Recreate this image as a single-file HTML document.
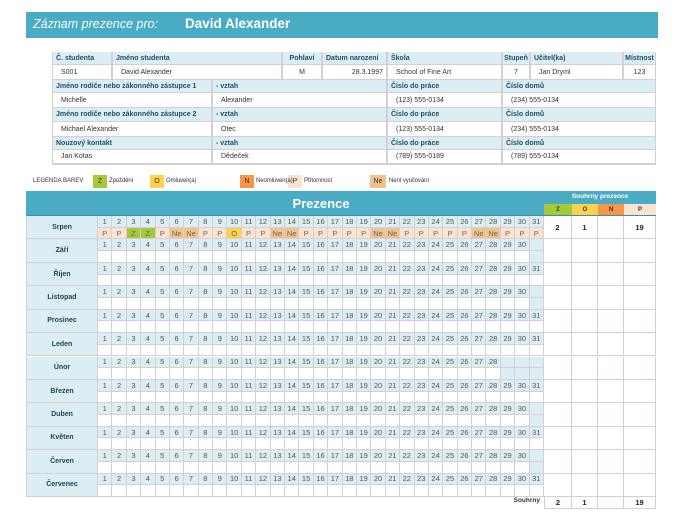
<!DOCTYPE html>
<html><head><meta charset="utf-8">
<style>
body{margin:0;width:675px;height:520px;background:#fff;position:relative;overflow:hidden;font-family:"Liberation Sans",sans-serif;}
.a{position:absolute;box-sizing:border-box;}
.t{position:absolute;font-size:7px;color:#333;white-space:nowrap;line-height:1;}
.c{position:absolute;box-sizing:border-box;font-size:7.5px;color:#555;text-align:center;border-right:1px solid #d8cdd2;border-bottom:1px solid #d8cdd2;display:flex;align-items:center;justify-content:center;}
</style></head><body>
<div class="a" style="left:26px;top:12px;width:632px;height:26px;background:#4aabc5;"></div>
<div class="t" style="left:33px;top:18px;font-size:12.5px;color:#fff;font-style:italic;">Záznam prezence pro:</div>
<div class="t" style="left:185px;top:17px;font-size:13.5px;color:#fff;font-weight:bold;">David Alexander</div>
<div id="info"></div>
<div id="legend"></div>
<div id="att"></div>
<script>
const months=["Srpen","Září","Říjen","Listopad","Prosinec","Leden","Únor","Březen","Duben","Květen","Červen","Červenec"];
const daysInMonth=[31,30,31,30,31,31,28,31,30,31,30,31];
const augustStatus=["P","P","Z","Z","P","Ne","Ne","P","P","O","P","P","Ne","Ne","P","P","P","P","P","Ne","Ne","P","P","P","P","P","Ne","Ne","P","P","P"];
const summaryKeys=["Z","O","N","P"];
const augustSummary=["2","1","","19"];
const totalSummary=["2","1","","19"];
const colors={Z:"#a6c93a",O:"#ffd24d",N:"#f79646",P:"#fbe4cf",Ne:"#f1c38c"};
const B="#d8cdd2",LB="#daeef3",BL="#4aabc5";
function box(parent,x,y,w,h,bg,name,inter,txt,cls,style){
  const d=document.createElement('div');
  d.className=cls||'c';
  
  
  d.style.left=x+'px';d.style.top=y+'px';d.style.width=w+'px';d.style.height=h+'px';
  if(bg)d.style.background=bg;
  if(txt!==undefined)d.textContent=txt;
  if(style)d.style.cssText+=style;
  parent.appendChild(d);return d;
}
const info=document.getElementById('info');
box(info,52,52,604,113,null,'info-frame',false,'','a','border:1px solid '+B);
const rowsY=[52,65,80,93,108,122,137,150,164];
function cell(x1,x2,ri,txt,hdr,name,align){
  box(info,x1,rowsY[ri],x2-x1,rowsY[ri+1]-rowsY[ri],hdr?LB:'#fff',name,!hdr,txt,'c',
   'font-size:7px;justify-content:'+(align||'flex-start')+';padding-left:'+(align?0:(hdr?3:8))+'px;padding-right:'+(align==='flex-end'?3:0)+'px;border-left:1px solid '+B+';'+(hdr?'font-weight:bold;color:#1f4e66;':'color:#333;'));
}
const cols=[[52,112,"Č. studenta","S001","student-id"],[112,282,"Jméno studenta","David Alexander","student-name"],[282,322,"Pohlaví","M","gender","center"],[322,387,"Datum narození","28.3.1997","birth-date","flex-end"],[387,502,"Škola","School of Fine Art","school"],[502,530,"Stupeň","7","grade","center"],[530,623,"Učitel(ka)","Jan Dryml","teacher"],[623,656,"Místnost","123","room","center"]];
cols.forEach(c=>{cell(c[0],c[1],0,c[2],true,c[4]+'-header',c[5]==='center'?'center':null);cell(c[0],c[1],1,c[3],false,c[4]+'-value',c[5]);});
const contacts=[["Jméno rodiče nebo zákonného zástupce 1","Michelle","Alexander","(123) 555-0134","(234) 555-0134","parent1"],["Jméno rodiče nebo zákonného zástupce 2","Michael Alexander","Otec","(123) 555-0134","(234) 555-0134","parent2"],["Nouzový kontakt","Jan Kotas","Dědeček","(789) 555-0189","(789) 555-0134","emergency"]];
contacts.forEach((c,i)=>{const r=2+i*2;
 cell(52,212,r,c[0],true,c[5]+'-name-header');cell(212,387,r,"- vztah",true,c[5]+'-relation-header');cell(387,502,r,"Číslo do práce",true,c[5]+'-work-header');cell(502,656,r,"Číslo domů",true,c[5]+'-home-header');
 cell(52,212,r+1,c[1],false,c[5]+'-name');cell(212,387,r+1,c[2],false,c[5]+'-relation');cell(387,502,r+1,c[3],false,c[5]+'-work-phone');cell(502,656,r+1,c[4],false,c[5]+'-home-phone');});
const lg=document.getElementById('legend');
box(lg,33,178,60,9,null,'legend-title',false,'LEGENDA BAREV','t','font-size:6px;');
[[93,"Z","Zpoždění"],[150,"O","Omluven(a)"],[240,"N","Neomluven(a)"],[288,"P","Přítomnost"],[370,"Ne","Není vyučování"]].forEach(l=>{
 box(lg,l[0],175,l[1]==="Ne"?16:14,13,colors[l[1]],'legend-swatch-'+l[1].toLowerCase(),false,l[1],'c','border:none;color:#333;font-size:7px;');
 box(lg,l[0]+(l[1]==="Ne"?19:16),178,40,9,null,'legend-label-'+l[1].toLowerCase(),false,l[2],'t','font-size:6px;letter-spacing:-0.1px;z-index:2;');});
const at=document.getElementById('att');
const X0=98,DW=(544-98)/31,Y0=216,MH=(497-216)/12;
box(at,26,191,630,25,BL,'attendance-header',false,'','a');
box(at,98,192,446,22,null,'attendance-title',false,'Prezence','t','font-size:13px;font-weight:bold;color:#fff;display:flex;align-items:center;justify-content:center;');
const sx=[544,572,598,624,656];
box(at,544,194,112,9,null,'summary-header',false,'Souhrny prezence','t','font-size:6.5px;font-weight:bold;color:#fff;text-align:center;');
summaryKeys.forEach((k,i)=>box(at,sx[i],204,sx[i+1]-sx[i],11,colors[k],'summary-key-'+k.toLowerCase(),false,k,'c','border:none;font-weight:bold;color:#333;font-size:6px;'));
box(at,26,215,630,1.5,'#3d8fa6','header-underline',false,'','a');
months.forEach((m,mi)=>{
 const y=Y0+mi*MH,h1=MH/2;
 box(at,26,y,X0-26,MH,LB,'month-label-'+mi,false,m,'c','font-size:7px;font-weight:bold;color:#1f3f55;border-left:1px solid '+B+';');
 for(let d=0;d<31;d++){
  const x=X0+d*DW;
  box(at,x,y,DW,h1,LB,'day-number',false,d<daysInMonth[mi]?String(d+1):'');
  let bg='#fff',txt='';
  if(mi===0){txt=augustStatus[d];bg=colors[txt]||'#fff';}
  else if(d>=daysInMonth[mi])bg=LB;
  box(at,x,y+h1,DW,MH-h1,bg,'day-status-cell',true,txt,'c','color:#666;');
 }
 for(let i=0;i<4;i++) box(at,sx[i],y,sx[i+1]-sx[i],MH,'#fff','month-summary-'+summaryKeys[i].toLowerCase(),false,mi===0?augustSummary[i]:'','c','font-weight:bold;color:#222;');
});
box(at,490,498,54,10,null,'total-label',false,'Souhrny','t','font-size:6.5px;font-weight:bold;text-align:right;width:50px;');
for(let i=0;i<4;i++) box(at,sx[i],497,sx[i+1]-sx[i],12,'#fff','total-summary-'+summaryKeys[i].toLowerCase(),false,totalSummary[i],'c','font-weight:bold;color:#222;border-left:'+(i===0?'1px solid '+B:'none')+';');
</script>
</body></html>
